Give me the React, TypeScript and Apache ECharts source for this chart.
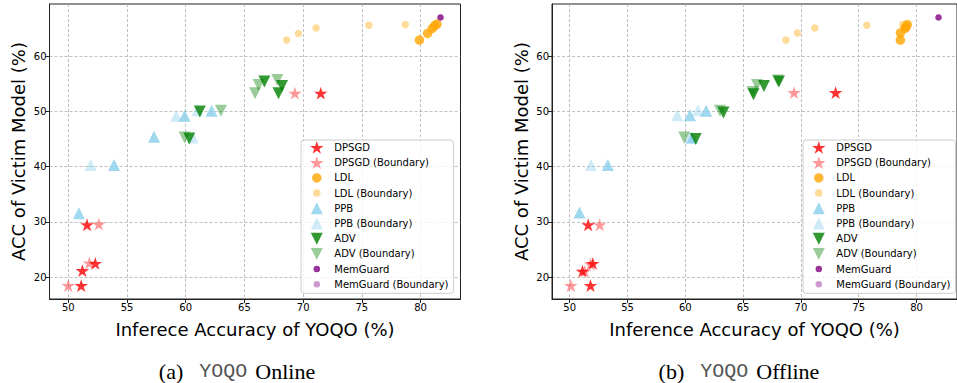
import React, { useEffect, useRef } from "react";
import * as echarts from "echarts";

const xTicks = [50, 55, 60, 65, 70, 75, 80];
const yTicks = [20, 30, 40, 50, 60];
const seriesNames = [
  "DPSGD",
  "DPSGD (Boundary)",
  "LDL",
  "LDL (Boundary)",
  "PPB",
  "PPB (Boundary)",
  "ADV",
  "ADV (Boundary)",
  "MemGuard",
  "MemGuard (Boundary)",
];
const xTitles = ["Inferece Accuracy of YOQO (%)", "Inference Accuracy of YOQO (%)"];
const yTitle = "ACC of Victim Model (%)";
const captions = [
  ["(a)", "YOQO", "Online"],
  ["(b)", "YOQO", "Offline"],
];

// Online (a)
const onDPSGD = [[51.1, 18.5], [51.2, 21.2], [52.3, 22.5], [51.6, 29.5], [71.5, 53.3]];
const onDPSGDB = [[50.0, 18.5], [51.8, 22.6], [52.6, 29.6], [69.3, 53.3]];
const onLDL = [[79.9, 62.9], [80.6, 64.1], [81.0, 65.0], [81.2, 65.5], [81.4, 65.8]];
const onLDLB = [[68.6, 62.9], [69.6, 64.1], [71.1, 65.1], [75.6, 65.6], [78.7, 65.7]];
const onPPB = [[50.9, 31.6], [53.9, 40.3], [57.3, 45.4], [59.9, 49.2], [62.2, 50.1]];
const onPPBB = [[51.9, 40.3], [59.2, 49.2], [60.6, 45.3], [61.0, 50.2]];
const onADV = [[60.3, 45.1], [61.2, 50.0], [66.7, 55.4], [68.2, 54.6], [67.9, 53.3]];
const onADVB = [[59.9, 45.3], [63.0, 50.1], [65.9, 53.3], [66.2, 54.8], [67.8, 55.7]];
const onMem = [[81.7, 67.0]];
const onMemB: number[][] = [];

// Offline (b)
const offDPSGD = [[51.8, 18.5], [51.1, 21.1], [52.0, 22.5], [51.6, 29.5], [73.0, 53.4]];
const offDPSGDB = [[50.1, 18.5], [51.3, 21.1], [51.8, 22.4], [52.6, 29.5], [69.4, 53.4]];
const offLDL = [[78.6, 62.9], [78.6, 64.2], [79.0, 65.0], [79.1, 65.3], [79.2, 65.7]];
const offLDLB = [[68.7, 62.9], [69.7, 64.2], [71.2, 65.1], [75.7, 65.6], [78.8, 65.7]];
const offPPB = [[50.85, 31.7], [53.3, 40.3], [60.6, 45.3], [60.4, 49.3], [61.8, 50.1]];
const offPPBB = [[51.85, 40.3], [59.3, 49.3], [61.1, 50.2], [60.4, 45.3]];
const offADV = [[60.9, 45.0], [63.3, 49.8], [65.9, 53.1], [66.8, 54.6], [68.1, 55.4]];
const offADVB = [[59.9, 45.3], [63.0, 50.1], [65.8, 53.5], [66.2, 54.8], [68.0, 55.6]];
const offMem = [[81.9, 67.0]];
const offMemB: number[][] = [];

const panelData = [
  [onDPSGD, onDPSGDB, onLDL, onLDLB, onPPB, onPPBB, onADV, onADVB, onMem, onMemB],
  [offDPSGD, offDPSGDB, offLDL, offLDLB, offPPB, offPPBB, offADV, offADVB, offMem, offMemB],
];
const xRanges = [
  [48.4, 83.4],
  [48.47, 83.5],
];
const yRange = [16.07, 69.43];

type Sty = { shape: string; color: string; size: number };
const styles: Sty[] = [
  { shape: "star", color: "#ff0000", size: 13.5 },
  { shape: "star", color: "rgba(255,0,0,0.5)", size: 13.5 },
  { shape: "circle", color: "#ffa500", size: 9.5 },
  { shape: "circle", color: "rgba(255,165,0,0.5)", size: 7.5 },
  { shape: "up", color: "#87ceeb", size: 12 },
  { shape: "up", color: "rgba(135,206,235,0.5)", size: 12 },
  { shape: "down", color: "#008000", size: 12 },
  { shape: "down", color: "rgba(0,128,0,0.5)", size: 12 },
  { shape: "circle", color: "#800080", size: 6.5 },
  { shape: "circle", color: "rgba(128,0,128,0.5)", size: 6.5 },
];

function starD(cx: number, cy: number, R: number) {
  const pts: string[] = [];
  for (let k = 0; k < 10; k++) {
    const a = -Math.PI / 2 + (k * Math.PI) / 5;
    const r = k % 2 === 0 ? R : R * 0.381966;
    pts.push(`${(cx + r * Math.cos(a)).toFixed(3)},${(cy + r * Math.sin(a)).toFixed(3)}`);
  }
  return "M" + pts.join("L") + "Z";
}
function shapeD(shape: string, cx: number, cy: number, s: number) {
  const h = s / 2;
  if (shape === "star") return starD(cx, cy + 0.6, s / 1.902);
  if (shape === "up") return `M${cx},${cy - h}L${cx + h},${cy + h}L${cx - h},${cy + h}Z`;
  if (shape === "down") return `M${cx - h},${cy - h}L${cx + h},${cy - h}L${cx},${cy + h}Z`;
  return `M${cx - h},${cy}A${h},${h} 0 1 0 ${cx + h},${cy}A${h},${h} 0 1 0 ${cx - h},${cy}Z`;
}
function seriesSymbol(shape: string) {
  if (shape === "circle") return "circle";
  if (shape === "star") return "path://" + starD(0, 0, 10);
  return "path://" + shapeD(shape, 0, 0, 20);
}
const IW = 25;
const IH = 14;
function legendIcon(st: Sty) {
  return (
    "path://M0,0h0.01v0.01ZM" + IW + "," + IH + "h-0.01v-0.01Z" + shapeD(st.shape, IW / 2, IH / 2, st.size)
  );
}

export default function App() {
  const ref = useRef<HTMLDivElement>(null);
  useEffect(() => {
    document.body.style.margin = "0";
    if (!ref.current) return;
    const chart = echarts.init(ref.current, null, { renderer: "svg" });
    const font = "DejaVu Sans";
    const gridLefts = [49.5, 552];
    const gridW = 411;
    const grids = gridLefts.map((l) => ({
      left: l,
      top: 4,
      width: gridW,
      height: 295,
      show: true,
      borderColor: "#222",
      borderWidth: 1,
      backgroundColor: "transparent",
    }));
    const splitLine = {
      show: true,
      lineStyle: { color: "#b0b0b0", width: 0.8, type: [3, 2] as any },
    };
    const xAxes = [0, 1].map((p) => ({
      type: "value",
      gridIndex: p,
      min: xRanges[p][0],
      max: xRanges[p][1],
      name: xTitles[p],
      nameLocation: "middle",
      nameGap: 21,
      nameTextStyle: { fontFamily: font, fontSize: 18, color: "#000" },
      axisLine: { show: true, onZero: false, lineStyle: { color: "#222", width: 1 } },
      axisTick: { show: true, length: 4, lineStyle: { color: "#222" }, customValues: xTicks },
      axisLabel: { fontFamily: font, fontSize: 10, color: "#000", margin: 3, customValues: xTicks },
      splitLine,
    }));
    const yAxes = [0, 1].map((p) => ({
      type: "value",
      gridIndex: p,
      min: yRange[0],
      max: yRange[1],
      name: yTitle,
      nameLocation: "middle",
      nameRotate: 90,
      nameGap: 22,
      nameTextStyle: { fontFamily: font, fontSize: 18, color: "#000" },
      axisLine: { show: true, onZero: false, lineStyle: { color: "#222", width: 1 } },
      axisTick: { show: true, length: 4, lineStyle: { color: "#222" }, customValues: yTicks },
      axisLabel: { fontFamily: font, fontSize: 10, color: "#000", margin: 3, customValues: yTicks },
      splitLine,
    }));
    const series: any[] = [];
    [0, 1].forEach((p) => {
      panelData[p].forEach((d, k) => {
        const st = styles[k];
        series.push({
          type: "scatter",
          name: seriesNames[k],
          xAxisIndex: p,
          yAxisIndex: p,
          data: d,
          symbol: seriesSymbol(st.shape),
          symbolSize: st.shape === "star" ? [st.size, st.size * 0.951] : st.size,
          itemStyle: { color: st.color },
          silent: true,
          emphasis: { disabled: true },
        });
      });
    });
    const legends = [301, 803].map((l) => ({
      orient: "vertical",
      left: l,
      top: 140,
      itemWidth: IW,
      itemHeight: IH,
      itemGap: 1.2,
      padding: [0.5, 5, 2, 3.3],
      backgroundColor: "rgba(255,255,255,0.8)",
      borderColor: "#cccccc",
      borderWidth: 1,
      borderRadius: 3,
      selectedMode: false,
      z: 10,
      textStyle: { fontFamily: font, fontSize: 10, color: "#000", lineHeight: 14 },
      data: seriesNames.map((n, k) => ({ name: n, icon: legendIcon(styles[k]) })),
    }));
    const capX = [237, 739];
    const graphic = captions.map((c, i) => ({
      type: "text",
      x: capX[i],
      y: 371,
      style: {
        text: `{a|${c[0]}}{m|${c[1]}}{a|${c[2]}}`,
        align: "center",
        verticalAlign: "middle",
        rich: {
          a: { fontFamily: "Liberation Serif", fontSize: 22, fill: "#000", color: "#000" },
          m: {
            fontFamily: "Liberation Mono",
            fontSize: 20,
            fill: "#555",
            color: "#555",
            padding: [0, 8, 0, 16],
          },
        },
      },
    }));
    chart.setOption({
      animation: false,
      grid: grids,
      xAxis: xAxes,
      yAxis: yAxes,
      legend: legends,
      series,
      graphic,
    } as any);
    return () => chart.dispose();
  }, []);
  return <div ref={ref} style={{ width: 957, height: 383, overflow: "hidden" }} />;
}
